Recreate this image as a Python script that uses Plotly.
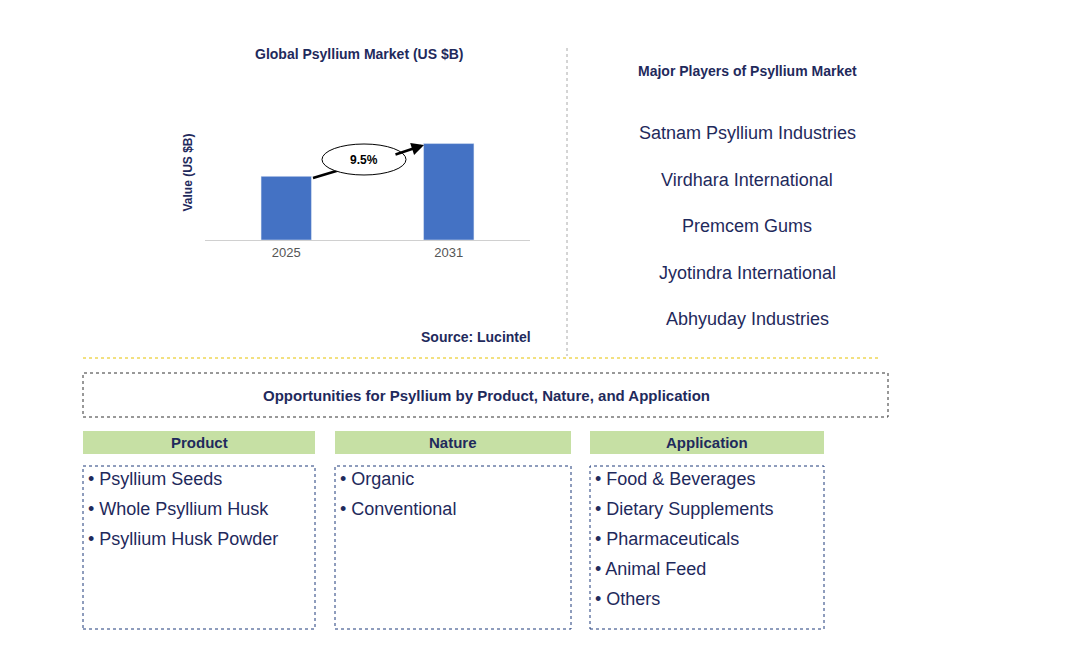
import plotly.graph_objects as go

years = ["2025", "2031"]
values = [0.66, 1.0]
cagr = "9.5%"
players = ["Satnam Psyllium Industries", "Virdhara International", "Premcem Gums",
           "Jyotindra International", "Abhyuday Industries"]
product = ["Psyllium Seeds", "Whole Psyllium Husk", "Psyllium Husk Powder"]
nature = ["Organic", "Conventional"]
application = ["Food & Beverages", "Dietary Supplements", "Pharmaceuticals", "Animal Feed", "Others"]

W, H = 1073, 662
NAVY = "#1f2a5c"
F = "Liberation Sans, Arial"
def px(x): return x / W
def py(y): return 1 - y / H

fig = go.Figure(go.Bar(x=years, y=values, marker_color="#4472c4", width=0.31))
fig.update_layout(
    width=W, height=H, margin=dict(l=0, r=0, t=0, b=0),
    paper_bgcolor="white", plot_bgcolor="white", showlegend=False,
    font=dict(family=F),
    xaxis=dict(domain=[px(197), px(522)], showline=True, linecolor="#d0d0d0",
               tickfont=dict(size=13, color="#555555", family=F), ticks=""),
    yaxis=dict(domain=[py(232), py(97)], range=[0, 1.4], showticklabels=False,
               showgrid=False, zeroline=False,
               title=dict(text="<b>Value (US $B)</b>", font=dict(size=12, color=NAVY), standoff=8)),
)
shapes, ann = [], []
def rect(x0, y0, x1, y1, **kw):
    shapes.append(dict(type="rect", xref="paper", yref="paper", x0=px(x0), x1=px(x1), y0=py(y1), y1=py(y0), **kw))
def text(x, y, t, size=14, color=NAVY, xanchor="center", bold=False):
    ann.append(dict(xref="paper", yref="paper", x=px(x), y=py(y), text=f"<b>{t}</b>" if bold else t,
                    showarrow=False, xanchor=xanchor, yanchor="middle", font=dict(size=size, color=color, family=F)))

shapes.append(dict(type="line", xref="paper", yref="paper", x0=px(559), x1=px(559), y0=py(40), y1=py(348),
                   line=dict(color="#aaaaaa", width=1, dash="dot")))
shapes.append(dict(type="line", xref="paper", yref="paper", x0=px(75), x1=px(870), y0=py(350), y1=py(350),
                   line=dict(color="#e6c200", width=1, dash="dot")))
rect(75, 365, 880, 409, line=dict(color="#333333", width=1, dash="dot"))
for x0, x1 in [(75, 307), (327, 563), (582, 816)]:
    rect(x0, 423, x1, 446, fillcolor="#c6e0a4", line=dict(width=0))
    rect(x0, 458, x1, 621, line=dict(color="#1f3a7a", width=1, dash="dot"))

shapes.append(dict(type="line", xref="paper", yref="paper", x0=px(305), x1=px(330), y0=py(170), y1=py(162.5),
                   line=dict(color="black", width=2.5)))
ann.append(dict(xref="paper", yref="paper", x=px(416), y=py(137), ax=-30, ay=10,
                showarrow=True, arrowhead=2, arrowsize=1, arrowwidth=2.5, arrowcolor="black", text=""))
shapes.append(dict(type="circle", xref="paper", yref="paper", x0=px(314), x1=px(398), y0=py(167), y1=py(136),
                   fillcolor="white", line=dict(color="black", width=1)))
text(356, 152, cagr, size=12, color="black", bold=True)

text(351, 46, "Global Psyllium Market (US $B)", 14, bold=True)
text(468, 329, "Source: Lucintel", 14, bold=True)
text(739, 63, "Major Players of Psyllium Market", 14, bold=True)
for i, p in enumerate(players):
    text(739, 125 + i * 46.5, p, 18)
text(478, 387, "Opportunities for Psyllium by Product, Nature, and Application", 15, bold=True)
for cx, t in [(191, "Product"), (445, "Nature"), (699, "Application")]:
    text(cx, 434, t, 15, bold=True)
for x0, items in [(78, product), (330, nature), (585, application)]:
    for i, it in enumerate(items):
        text(x0, 471 + i * 30, "• " + it, 18, xanchor="left")

fig.update_layout(shapes=shapes, annotations=ann)
fig.write_html("out.html")
